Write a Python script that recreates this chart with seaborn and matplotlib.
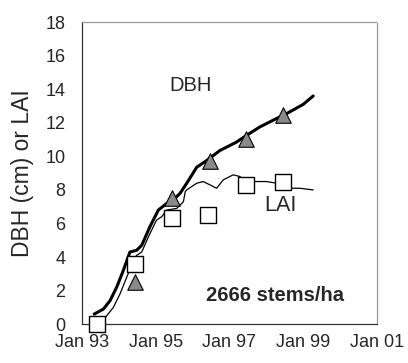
import numpy as np
import pandas as pd
import matplotlib
matplotlib.use('Agg')
import matplotlib.pyplot as plt
import seaborn as sns

# DBH (continuous line, cm)
dbh_year = [1993.33, 1993.58, 1993.76, 1993.94, 1994.12, 1994.30, 1994.48, 1994.62,
            1994.84, 1995.07, 1995.30, 1995.47, 1995.66, 1995.84, 1996.11, 1996.38,
            1996.74, 1997.19, 1997.46, 1997.82, 1998.18, 1998.55, 1999.00, 1999.27]
dbh_val = [0.6, 0.9, 1.4, 2.2, 3.2, 4.3, 4.4, 4.7,
           5.8, 6.8, 7.2, 7.4, 7.8, 8.4, 9.35, 9.75,
           10.35, 10.85, 11.25, 11.75, 12.15, 12.55, 13.1, 13.6]

# LAI (continuous line)
lai_year = [1993.50, 1993.58, 1993.85, 1994.03, 1994.25, 1994.48, 1994.62, 1994.80,
            1995.02, 1995.16, 1995.30, 1995.57, 1995.75, 1995.80, 1995.84, 1996.11,
            1996.29, 1996.47, 1996.65, 1996.83, 1997.10, 1997.28, 1997.46, 1997.73,
            1998.00, 1998.28, 1998.55, 1998.91, 1999.27]
lai_val = [0.05, 0.25, 1.0, 1.8, 3.0, 4.1, 4.3, 5.2,
           6.2, 6.4, 6.8, 6.9, 7.3, 7.9, 8.0, 8.4,
           8.5, 8.3, 8.1, 8.6, 8.9, 8.8, 8.5, 8.5,
           8.5, 8.4, 8.1, 8.1, 8.0]

# measured points
dbh_obs_year = [1994.44, 1995.43, 1996.47, 1997.46, 1998.46]
dbh_obs_val = [2.5, 7.5, 9.75, 11.05, 12.45]
lai_obs_year = [1993.40, 1994.44, 1995.43, 1996.42, 1997.46, 1998.46]
lai_obs_val = [0.0, 3.6, 6.3, 6.5, 8.3, 8.5]

tick_years = [1993, 1995, 1997, 1999, 2001]
tick_labels = ['Jan 93', 'Jan 95', 'Jan 97', 'Jan 99', 'Jan 01']

sns.set_style('white')
plt.rcParams['font.family'] = ['Liberation Sans', 'DejaVu Sans']

fig = plt.figure(figsize=(4.08, 3.63), dpi=100)
ax = fig.add_axes([0.201, 0.107, 0.723, 0.832])

df_dbh = pd.DataFrame({'year': dbh_year, 'val': dbh_val})
df_lai = pd.DataFrame({'year': lai_year, 'val': lai_val})
sns.lineplot(data=df_dbh, x='year', y='val', ax=ax, color='black', linewidth=2.2, sort=False)
sns.lineplot(data=df_lai, x='year', y='val', ax=ax, color='black', linewidth=0.9, sort=False)

sns.scatterplot(x=lai_obs_year, y=lai_obs_val, ax=ax, marker='s', s=125,
                facecolor='white', edgecolor='black', linewidth=1.0, zorder=3, clip_on=False)
sns.scatterplot(x=dbh_obs_year, y=dbh_obs_val, ax=ax, marker='^', s=125,
                color='#8a8a8a', edgecolor='black', linewidth=0.8, zorder=4)

ax.text(1995.95, 14.2, 'DBH', ha='center', va='center', fontsize=14.5)
ax.text(1998.37, 7.1, 'LAI', ha='center', va='center', fontsize=15.5)
ax.text(1998.23, 1.73, '2666 stems/ha', ha='center', va='center', fontsize=14.5,
        fontweight='bold')

ax.set_xlim(1993, 2001)
ax.set_ylim(0, 18)
ax.set_xticks(tick_years)
ax.set_xticklabels(tick_labels)
ax.set_yticks(range(0, 19, 2))
ax.tick_params(axis='both', labelsize=13, length=2, width=0.8, color='#555555', pad=5)
ax.tick_params(axis='y', pad=10)
ax.set_xlabel('')
ax.set_ylabel('DBH (cm) or LAI', fontsize=16.5, labelpad=8)

for side in ['left', 'bottom']:
    ax.spines[side].set_color('#333333')
    ax.spines[side].set_linewidth(0.9)
for side in ['top', 'right']:
    ax.spines[side].set_color('#999999')
    ax.spines[side].set_linewidth(0.9)
    ax.spines[side].set_linestyle((0, (1, 1)))

plt.savefig('out.png', dpi=100)
